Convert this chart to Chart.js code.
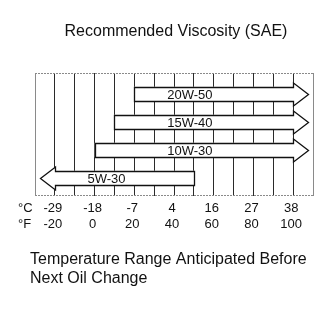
<!DOCTYPE html>
<html>
<head>
<meta charset="utf-8">
<script src="https://cdn.jsdelivr.net/npm/chart.js@4"></script>
<style>
    html, body { margin: 0; padding: 0; background: #fff; }
    #wrap { width: 333px; height: 333px; }
</style>
</head>
<body>
<div id="wrap"><canvas id="chartOil" width="333" height="333"></canvas></div>
<script>
// Grades, listed top to bottom
const grades = ['20W-50', '15W-40', '10W-30', '5W-30'];
const rowIndex = [0, 1, 2, 3];
// Temperature range of each grade (°F)
const lowF = [20, 10, 0, -20];
const highF = [100, 100, 100, 50];
// Open end of the range = arrow head side
const openSide = ['right', 'right', 'right', 'left'];
// Axis labels
const tickF = [-20, 0, 20, 40, 60, 80, 100];
const tickFLabels = ['-20', '0', '20', '40', '60', '80', '100'];
const tickCLabels = ['-29', '-18', '-7', '4', '16', '27', '38'];

const FONT = '"Liberation Sans", Arial, sans-serif';
const INK = '#111';

// Arrow outline + grade label on top of each floating bar
const arrowPlugin = {
    id: 'arrowBars',
    afterDatasetsDraw(chart, args, opts) {
        const ctx = chart.ctx;
        const xs = chart.scales.x;
        const meta = chart.getDatasetMeta(0);
        meta.data.forEach((bar, i) => {
            const p = bar.getProps(['x', 'y', 'base', 'height'], true);
            const left = Math.round(Math.min(p.x, p.base)) + 0.5;
            const right = Math.round(Math.max(p.x, p.base)) + 0.5;
            const cy = Math.round(p.y) + 0.5;
            const top = Math.round(p.y - p.height / 2) + 0.5;
            const bottom = Math.round(p.y + p.height / 2) + 0.5;
            const hh = opts.headHalf, hl = opts.headLen;

            ctx.save();
            ctx.beginPath();
            if (openSide[i] === 'right') {
                ctx.moveTo(left, top);
                ctx.lineTo(right, top);
                ctx.lineTo(right, cy - hh);
                ctx.lineTo(right + hl, cy);
                ctx.lineTo(right, cy + hh);
                ctx.lineTo(right, bottom);
                ctx.lineTo(left, bottom);
            } else {
                ctx.moveTo(right, top);
                ctx.lineTo(left, top);
                ctx.lineTo(left, cy - hh);
                ctx.lineTo(left - hl, cy);
                ctx.lineTo(left, cy + hh);
                ctx.lineTo(left, bottom);
                ctx.lineTo(right, bottom);
            }
            ctx.closePath();
            ctx.fillStyle = '#fff';
            ctx.fill();
            ctx.lineWidth = 1.3;
            ctx.strokeStyle = INK;
            ctx.stroke();

            ctx.fillStyle = INK;
            ctx.font = '13px ' + FONT;
            ctx.textAlign = 'center';
            ctx.textBaseline = 'middle';
            ctx.fillText(grades[i], xs.getPixelForValue(opts.labelAt[i]), p.y + 1);
            ctx.restore();
        });
    }
};

// Box top/bottom, axis labels and the captions
const framePlugin = {
    id: 'frameText',
    beforeDatasetsDraw(chart) {
        const { ctx, chartArea: a } = chart;
        ctx.save();
        ctx.strokeStyle = '#8a8a8a';
        ctx.lineWidth = 1;
        ctx.setLineDash([2, 1]);
        ctx.beginPath();
        ctx.moveTo(a.left, a.top + 0.5);
        ctx.lineTo(a.right, a.top + 0.5);
        ctx.moveTo(a.left, a.bottom - 0.5);
        ctx.lineTo(a.right, a.bottom - 0.5);
        ctx.stroke();
        ctx.restore();
    },
    afterDraw(chart) {
        const ctx = chart.ctx;
        const xs = chart.scales.x;
        ctx.save();
        ctx.fillStyle = INK;

        ctx.font = '16px ' + FONT;
        ctx.textAlign = 'center';
        ctx.textBaseline = 'alphabetic';
        ctx.fillText('Recommended Viscosity (SAE)', 176, 36);

        ctx.textAlign = 'left';
        ctx.fillText('Temperature Range Anticipated Before', 30, 264);
        ctx.fillText('Next Oil Change', 30, 283);

        ctx.font = '13px ' + FONT;
        ctx.textBaseline = 'middle';
        ctx.fillText('°C', 18, 208);
        ctx.fillText('°F', 18, 224);
        ctx.textAlign = 'center';
        tickF.forEach((f, i) => {
            const px = xs.getPixelForValue(f) - 2;
            ctx.fillText(tickCLabels[i], px, 208);
            ctx.fillText(tickFLabels[i], px, 224);
        });
        ctx.restore();
    }
};

new Chart(document.getElementById('chartOil'), {
    type: 'bar',
    data: {
        labels: grades,
        datasets: [{
            data: rowIndex.map(i => ({ x: [lowF[i], highF[i]], y: i })),
            backgroundColor: '#fff',
            borderWidth: 0,
            barThickness: 14
        }]
    },
    options: {
        indexAxis: 'y',
        responsive: false,
        animation: false,
        layout: { padding: { left: 35, right: 20, top: 73, bottom: 137 } },
        plugins: {
            legend: { display: false },
            tooltip: { enabled: false },
            arrowBars: { headHalf: 11.5, headLen: 15, labelAt: [48, 48, 48, 6] }
        },
        scales: {
            x: {
                type: 'linear',
                min: -30,
                max: 110,
                ticks: { stepSize: 10, display: false },
                grid: {
                    drawTicks: false,
                    lineWidth: 1,
                    color: c => (c.tick && (c.tick.value === -30 || c.tick.value === 110)) ? '#8a8a8a' : '#2a2a2a'
                },
                border: { display: false }
            },
            y: {
                type: 'linear',
                reverse: true,
                offset: false,
                min: -0.75,
                max: 3.643,
                display: false
            }
        }
    },
    plugins: [arrowPlugin, framePlugin]
});
</script>
</body>
</html>
